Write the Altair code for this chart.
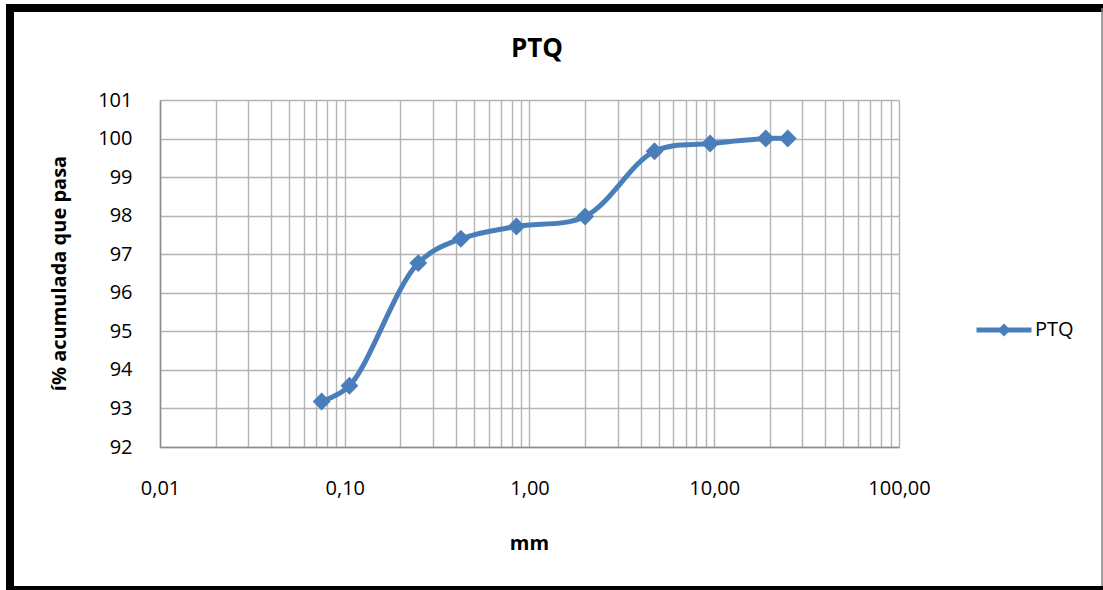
import altair as alt
import pandas as pd

# ---- data ----
sizes_mm = [0.075, 0.106, 0.25, 0.425, 0.85, 2.0, 4.75, 9.5, 19.0, 25.0]
pct_passing = [93.18, 93.59, 96.77, 97.40, 97.72, 97.98, 99.67, 99.87, 100.0, 100.0]
series_name = "PTQ"
chart_title = "PTQ"

x_ticks = [m * 10 ** e for e in (-2, -1, 0, 1) for m in range(1, 10)] + [100]
y_ticks = list(range(92, 102))

df = pd.DataFrame({"mm": sizes_mm, "pct": pct_passing, "serie": [series_name] * len(sizes_mm)})

BLUE = "#4a7ebb"
FONT = "Open Sans"

x_enc = alt.X(
    "mm:Q",
    scale=alt.Scale(type="log", domain=[0.01, 100], nice=False),
    axis=alt.Axis(
        title="mm",
        values=x_ticks,
        labelExpr="abs(log(datum.value)/LN10 - round(log(datum.value)/LN10)) < 1e-6 ? replace(format(datum.value, '.2f'), '.', ',') : ''",
        labelOverlap=False,
        labelFlush=False,
        ticks=False,
        tickSize=0,
        labelPadding=41,
        labelBaseline="middle",
        labelFontSize=20,
        labelFont=FONT,
        labelColor="#000000",
        titleFont=FONT,
        titleFontSize=20,
        titleFontWeight="bold",
        titleColor="#000000",
        titleX=369,
        titleY=96,
        titleAlign="center",
        titleBaseline="middle",
        grid=True,
        gridColor="#b4b4b4",
        gridWidth=1.4,
        domainColor="#8c8c8c",
        domainWidth=1.5,
    ),
)

y_enc = alt.Y(
    "pct:Q",
    scale=alt.Scale(domain=[92, 101], nice=False, zero=False),
    axis=alt.Axis(
        title="í% acumulada que pasa",
        values=y_ticks,
        format="d",
        ticks=False,
        tickSize=0,
        labelPadding=28,
        labelFontSize=20,
        labelFont=FONT,
        labelColor="#000000",
        titleFont=FONT,
        titleFontSize=20,
        titleFontWeight="bold",
        titleColor="#000000",
        titleAngle=270,
        titleX=-101,
        titleY=173,
        titleAlign="center",
        titleBaseline="middle",
        grid=True,
        gridColor="#b4b4b4",
        gridWidth=1.4,
        domainColor="#8c8c8c",
        domainWidth=1.5,
    ),
)

legend_path = "M-4.23,-0.38L-0.62,-0.38L0,-1L0.62,-0.38L4.23,-0.38L4.23,0.38L0.62,0.38L0,1L-0.62,0.38L-4.23,0.38Z"

line = alt.Chart(df).mark_line(
    interpolate="catmull-rom", color=BLUE, strokeWidth=5
).encode(x=x_enc, y=y_enc)

points = alt.Chart(df).mark_point(
    shape="diamond", filled=True, size=320, opacity=1
).encode(
    x=x_enc,
    y=y_enc,
    color=alt.Color(
        "serie:N",
        scale=alt.Scale(domain=[series_name], range=[BLUE]),
        legend=alt.Legend(
            title=None,
            orient="none",
            legendX=834,
            legendY=220,
            symbolType=legend_path,
            symbolSize=169,
            symbolStrokeWidth=0,
            symbolOpacity=1,
            labelOffset=21,
            labelFontSize=20,
            labelFont=FONT,
            labelColor="#000000",
            padding=0,
        ),
    ),
)

one = pd.DataFrame({"a": [0], "t": [chart_title]})
title_mark = alt.Chart(one).mark_text(
    font=FONT, fontSize=26, fontWeight="bold", color="#000000",
    align="center", baseline="middle"
).encode(x=alt.value(377), y=alt.value(-51), text="t:N")

frame_top = alt.Chart(one).mark_rule(color="#000000", strokeWidth=8).encode(
    x=alt.value(-154), x2=alt.value(943), y=alt.value(-92)
)
frame_left = alt.Chart(one).mark_rule(color="#000000", strokeWidth=8).encode(
    x=alt.value(-150), y=alt.value(-96), y2=alt.value(490)
)
frame_bottom = alt.Chart(one).mark_rule(color="#000000", strokeWidth=4).encode(
    x=alt.value(-154), x2=alt.value(943), y=alt.value(488)
)
frame_right = alt.Chart(one).mark_rule(color="#808080", strokeWidth=1.5).encode(
    x=alt.value(942), y=alt.value(-92), y2=alt.value(486)
)

chart = (
    alt.layer(line, points, title_mark, frame_top, frame_left, frame_bottom, frame_right)
    .properties(
        width=739,
        height=347,
        autosize=alt.AutoSizeParams(type="none"),
        padding={"left": 160, "top": 100, "right": 204, "bottom": 143},
        background="white",
    )
    .configure_view(strokeWidth=0)
)

chart.save("out.html", embed_options={"renderer": "svg", "actions": False})
